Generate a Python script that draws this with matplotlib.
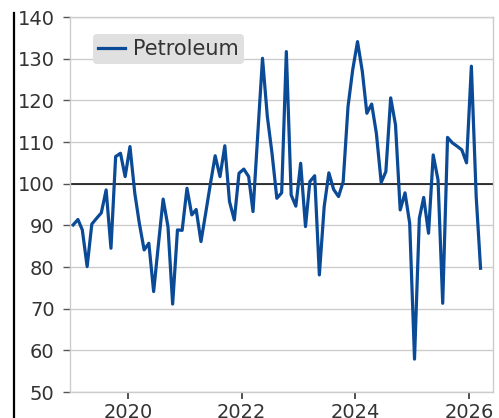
import matplotlib
matplotlib.use("Agg")
import matplotlib.pyplot as plt
import matplotlib.dates as mdates
from matplotlib.lines import Line2D
import pandas as pd

# monthly index, Jan 2019 .. Mar 2026
start_month = "2019-01-01"
petroleum = [
    90.1, 91.4, 88.9, 80.1, 90.3, 91.7, 93.0, 98.5, 84.5, 106.5, 107.3, 101.7,
    108.9, 97.7, 90.5, 84.1, 85.7, 74.1, 85.2, 96.3, 89.7, 71.1, 88.9, 88.8,
    98.9, 92.5, 93.8, 86.1, 92.9, 100.1, 106.7, 101.7, 109.1, 95.7, 91.3, 102.5,
    103.5, 101.7, 93.3, 112.1, 130.1, 116.1, 107.3, 96.5, 97.8, 131.7, 97.3, 94.6,
    104.9, 89.7, 100.5, 101.9, 78.1, 94.5, 102.6, 98.6, 96.9, 100.5, 118.5, 127.3,
    134.1, 126.9, 116.9, 119.1, 112.1, 100.3, 102.9, 120.6, 114.1, 93.7, 97.8, 90.5,
    57.9, 91.7, 96.7, 88.1, 106.9, 100.9, 71.3, 111.1, 109.8, 109.0, 108.1, 105.0,
    128.2, 96.9, 79.7,
]
yticks = list(range(50, 150, 10))

dates = pd.date_range(start_month, periods=len(petroleum), freq="MS") + pd.Timedelta(days=14)

fig = plt.figure(figsize=(4.99, 4.18), dpi=100)
ax = fig.add_axes([0.1403, 0.0622, 0.988 - 0.1403, 0.9593 - 0.0622])

ax.plot(dates, petroleum, color="#0a4a96", lw=2.3, label="Petroleum", zorder=3)
ax.axhline(100, color="black", lw=1.1, zorder=2)

ax.set_ylim(50, 140)
ax.set_yticks(yticks)
ax.set_xlim(pd.Timestamp("2018-12-26"), pd.Timestamp("2026-06-03"))
ax.xaxis.set_major_locator(mdates.YearLocator(2))
ax.xaxis.set_major_formatter(mdates.DateFormatter("%Y"))

ax.grid(axis="y", color="#cccccc", lw=1)
ax.set_axisbelow(True)
for s in ax.spines.values():
    s.set_color("#cccccc")
    s.set_linewidth(1)

ax.tick_params(axis="y", labelsize=14, colors="#333333", length=5, width=1, pad=6)
ax.tick_params(axis="y", color="#555555")
ax.tick_params(axis="x", labelsize=14, colors="#333333", length=5, width=1.2, pad=3)

leg = ax.legend(loc="upper left", bbox_to_anchor=(0.055, 0.955), fontsize=15,
                frameon=True, fancybox=True, handlelength=1.25, handletextpad=0.4,
                borderpad=0.25, borderaxespad=0)
leg.get_frame().set_facecolor("#e0e0e0")
leg.get_frame().set_edgecolor("none")
leg.get_frame().set_alpha(1)
for t in leg.get_texts():
    t.set_color("#333333")

# thick black rule at far left
fig.add_artist(Line2D([0.029, 0.029], [0, 1 - 13 / 418], color="black", lw=1.6,
                      transform=fig.transFigure))

fig.savefig("out.png", dpi=100)
